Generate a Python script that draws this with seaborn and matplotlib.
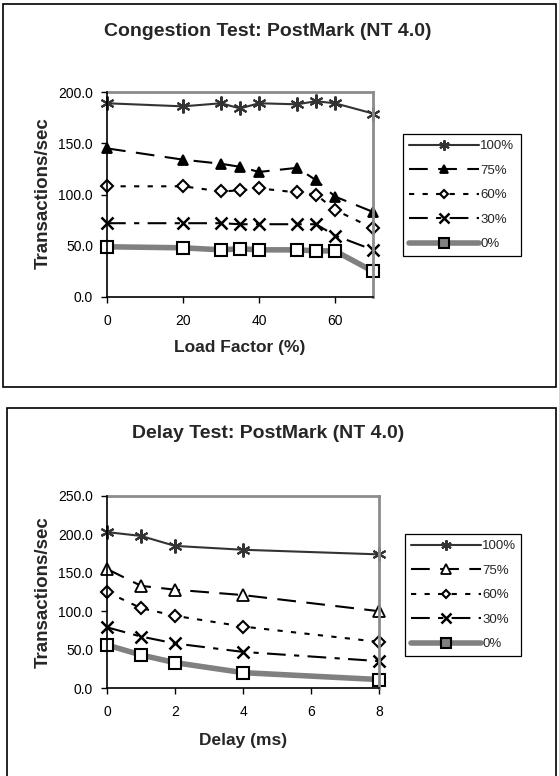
import numpy as np
import pandas as pd
import matplotlib
matplotlib.use("Agg")
import matplotlib.pyplot as plt
import seaborn as sns
from matplotlib.patches import Rectangle

# ---------------- data ----------------
series_labels = ["100%", "75%", "60%", "30%", "0%"]

load_factor = [0, 20, 30, 35, 40, 50, 55, 60, 70]
cong_100 = [189, 186, 189, 184, 189, 188, 191, 189, 179]
cong_75 = [145, 134, 130, 127, 122, 126, 114, 98, 83]
cong_60 = [108, 108, 103, 104, 106, 102, 100, 85, 67]
cong_30 = [72, 72, 72, 71, 71, 71, 71, 60, 46]
cong_0 = [49, 48, 46, 47, 46, 46, 45, 45, 25]

delay_ms = [0, 1, 2, 4, 8]
delay_100 = [203, 198, 185, 180, 174]
delay_75 = [155, 133, 128, 121, 100]
delay_60 = [125, 104, 94, 80, 60]
delay_30 = [79, 67, 58, 47, 35]
delay_0 = [56, 43, 33, 20, 11]

# ---------------- style ----------------
sns.set_theme(style="white")
plt.rcParams["font.family"] = ["Liberation Sans", "DejaVu Sans"]

W, H = 559, 776
fig = plt.figure(figsize=(W / 100, H / 100), dpi=100)


def fx(px):
    return px / W


def fy(py):
    return 1 - py / H


styles = {
    "100%": dict(color="#333333", lw=1.5, dashes=None, marker=(6, 2, 0), ms=10, mfc="#333333", mec="#333333", mew=1.5),
    "75%": dict(color="black", lw=1.5, dashes=(9, 5), marker="^", ms=7, mfc="black", mec="black", mew=1.3),
    "60%": dict(color="black", lw=1.5, dashes=(2.5, 4), marker="D", ms=6, mfc="white", mec="black", mew=1.5),
    "30%": dict(color="black", lw=1.5, dashes=(9, 4, 2.5, 4), marker="x", ms=9, mfc="black", mec="black", mew=1.8),
    "0%": dict(color="#808080", lw=4, dashes=None, marker="s", ms=9, mfc="white", mec="black", mew=1.5),
}


def draw_panel(rect, x, ys, xlim, xticks, ylim, yticks, xlabel, title, title_y, ylabel_y,
               xlabel_y, legend_rect, open_triangle=False):
    ax = fig.add_axes(rect)
    for lab, y in zip(series_labels, ys):
        st = dict(styles[lab])
        if lab == "75%" and open_triangle:
            st["mfc"] = "white"
            st["ms"] = 9
        kw = dict(color=st["color"], linewidth=st["lw"], marker=st["marker"],
                  markersize=st["ms"], markerfacecolor=st["mfc"],
                  markeredgecolor=st["mec"], markeredgewidth=st["mew"])
        sns.lineplot(x=x, y=y, ax=ax, label=lab, **kw)
        line = ax.get_lines()[-1]
        if st["dashes"] is not None:
            line.set_dashes(st["dashes"])
        line.set_clip_on(False)
    ax.set_xlim(*xlim)
    ax.set_ylim(*ylim)
    ax.set_xticks(xticks)
    ax.set_xticklabels([str(t) for t in xticks])
    ax.set_yticks(yticks)
    ax.set_yticklabels([f"{t:.1f}" for t in yticks])
    ax.tick_params(axis="both", direction="out", length=4, width=1, colors="black",
                   labelsize=10, pad=6, left=True, bottom=True)
    ax.tick_params(axis="x", pad=8)
    for s in ["left", "bottom"]:
        ax.spines[s].set_color("black")
        ax.spines[s].set_linewidth(1.2)
        ax.spines[s].set_zorder(5)
    for s in ["top", "right"]:
        ax.spines[s].set_color("#8c8c8c")
        ax.spines[s].set_linewidth(2)
        ax.spines[s].set_visible(True)
    ax.set_xlabel("")
    ax.set_ylabel("")
    ax.grid(False)
    # titles and labels
    fig.text(fx(268), fy(title_y), title, ha="center", va="center",
             fontsize=14, fontweight="bold")
    fig.text(fx(43), fy(ylabel_y), "Transactions/sec", ha="center", va="center",
             rotation=90, fontsize=13.5, fontweight="bold")
    cx = (rect[0] + rect[0] + rect[2]) / 2
    fig.text(cx, fy(xlabel_y), xlabel, ha="center", va="center",
             fontsize=12.5, fontweight="bold")
    # legend
    handles, labels = ax.get_legend_handles_labels()
    if ax.legend_:
        ax.legend_.remove()
    lx0, ly0, lx1, ly1 = legend_rect
    leg = fig.legend(handles, labels, loc="upper left",
                     bbox_to_anchor=(fx(lx0), fy(ly1), fx(lx1) - fx(lx0), fy(ly0) - fy(ly1)),
                     bbox_transform=fig.transFigure, mode="expand", borderaxespad=0,
                     fontsize=9.5, handlelength=5.3, handletextpad=0.1, markerscale=0.75,
                     labelspacing=0.93, borderpad=0.45, frameon=True, fancybox=False,
                     edgecolor="black", framealpha=1)
    leg.get_frame().set_linewidth(0.9)
    for h in leg.legend_handles:
        if h.get_label() == "0%":
            h.set_markerfacecolor("#808080")
    return ax


# top panel: congestion test
draw_panel([fx(107), fy(297), fx(373) - fx(107), fy(92) - fy(297)],
           load_factor, [cong_100, cong_75, cong_60, cong_30, cong_0],
           (0, 70), [0, 20, 40, 60], (0, 200), [0, 50, 100, 150, 200],
           "Load Factor (%)", "Congestion Test: PostMark (NT 4.0)",
           title_y=32, ylabel_y=193, xlabel_y=348, legend_rect=(403, 134, 521, 254))

# bottom panel: delay test
draw_panel([fx(107), fy(688), fx(379) - fx(107), fy(496) - fy(688)],
           delay_ms, [delay_100, delay_75, delay_60, delay_30, delay_0],
           (0, 8), [0, 2, 4, 6, 8], (0, 250), [0, 50, 100, 150, 200, 250],
           "Delay (ms)", "Delay Test: PostMark (NT 4.0)",
           title_y=433, ylabel_y=592, xlabel_y=740, legend_rect=(405, 534, 521, 649),
           open_triangle=True)

# outer frames around each chart
fig.add_artist(Rectangle((fx(3), fy(387)), fx(556) - fx(3), fy(4) - fy(387),
                         transform=fig.transFigure, fill=False, edgecolor="black", linewidth=1.2))
fig.add_artist(Rectangle((fx(7), fy(790)), fx(556) - fx(7), fy(408) - fy(790),
                         transform=fig.transFigure, fill=False, edgecolor="black", linewidth=1.2))

fig.savefig("out.png", dpi=100)
